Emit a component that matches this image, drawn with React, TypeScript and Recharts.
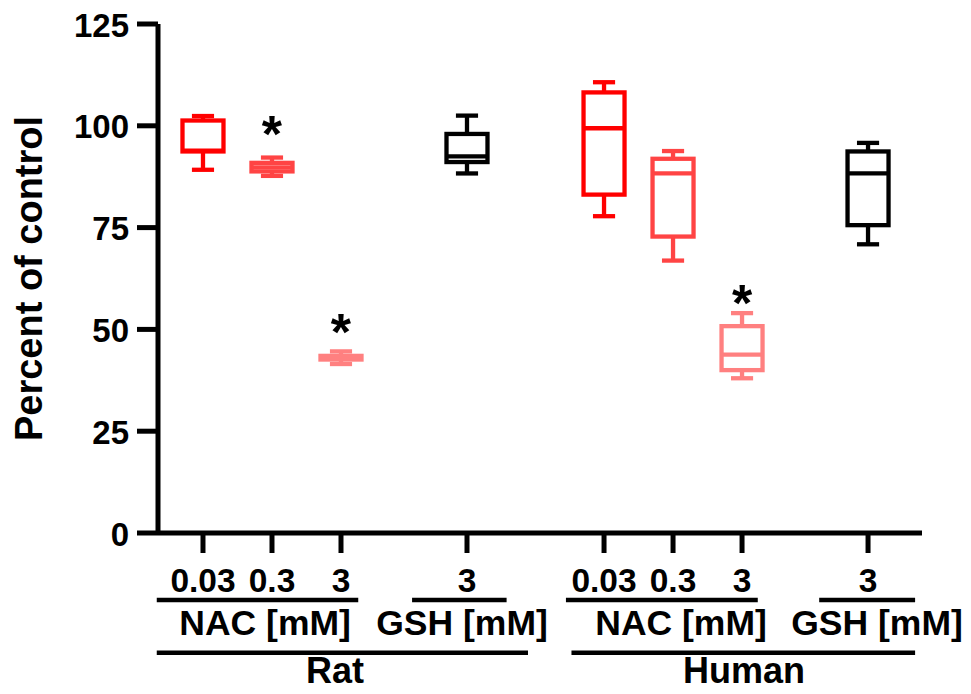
import React from 'react';
import { ComposedChart, Bar, XAxis, YAxis, ReferenceLine, ReferenceDot } from 'recharts';

// ---------- data ----------
const categories = ['0.03', '0.3', '3', '3', '0.03', '0.3', '3', '3'];
const xPositions = [1, 2, 3, 4.826, 6.812, 7.812, 8.812, 10.638];
const minValues = [89.2, 87.7, 41.5, 88.3, 77.8, 66.9, 38.0, 70.9];
const q1Values = [93.7, 88.8, 42.6, 91.1, 83.1, 72.8, 40.0, 75.6];
const medianValues = [93.9, 89.8, 43.0, 92.5, 99.4, 88.3, 43.8, 88.3];
const q3Values = [101.3, 90.9, 43.5, 98.0, 108.2, 91.9, 50.8, 93.7];
const maxValues = [102.4, 92.2, 44.6, 102.5, 110.7, 93.8, 54.0, 95.8];
const starValues: (number | null)[] = [null, 100.5, 51.8, null, null, null, 58.9, null];
const yTicks = [0, 25, 50, 75, 100, 125];

const groupLabels = ['NAC [mM]', 'GSH [mM]', 'NAC [mM]', 'GSH [mM]'];
const groupStart = [0.33, 4.03, 6.26, 9.93];
const groupEnd = [3.25, 5.4, 9.04, 11.32];
const groupLabelX = [1.9, 4.754, 7.928, 10.768];

const speciesLabels = ['Rat', 'Human'];
const speciesStart = [0.33, 6.34];
const speciesEnd = [5.71, 11.32];
const speciesLabelX = [2.913, 8.84];

// ---------- styles ----------
const boxColors = ['#ff0000', '#ff4444', '#ff8080', '#000000', '#ff0000', '#ff4444', '#ff8080', '#000000'];
const FONT = '"Liberation Sans", Arial, Helvetica, sans-serif';
const GROUP_Y = -16.45;
const GROUP_LABEL_Y = -22.2;
const SPECIES_Y = -29.4;
const SPECIES_LABEL_Y = -34.0;

const data = categories.map((c, i) => ({
  x: xPositions[i],
  label: c,
  min: minValues[i],
  q1: q1Values[i],
  median: medianValues[i],
  q3: q3Values[i],
  max: maxValues[i],
  star: starValues[i],
  color: boxColors[i],
}));

const BoxShape = (props: any) => {
  const { x, y, width, height, payload } = props;
  if (!payload) return null;
  const { min, q1, median, q3, max, star, color } = payload;
  const k = height / (max - min);
  const toY = (v: number) => y + (max - v) * k;
  const cx = x + width / 2;
  const capHalf = width * 0.27;
  const sw = 4.3;
  const yMax = toY(max);
  const yMin = toY(min);
  const yQ3 = toY(q3);
  const yQ1 = toY(q1);
  const yMed = toY(median);
  return (
    <g>
      <line x1={cx} x2={cx} y1={yMax} y2={yQ3} stroke={color} strokeWidth={sw} />
      <line x1={cx} x2={cx} y1={yQ1} y2={yMin} stroke={color} strokeWidth={sw} />
      <line x1={cx - capHalf} x2={cx + capHalf} y1={yMax} y2={yMax} stroke={color} strokeWidth={sw} />
      <line x1={cx - capHalf} x2={cx + capHalf} y1={yMin} y2={yMin} stroke={color} strokeWidth={sw} />
      <rect x={x} y={yQ3} width={width} height={Math.max(yQ1 - yQ3, 0.1)} fill="none" stroke={color} strokeWidth={sw} strokeLinejoin="miter" />
      <line x1={x} x2={x + width} y1={yMed} y2={yMed} stroke={color} strokeWidth={sw} />
      {star != null && (
        <text x={cx} y={toY(star) + 28} textAnchor="middle" fontSize={52} fontWeight={700} fontFamily={FONT} fill="#000">*</text>
      )}
    </g>
  );
};

const XTick = (props: any) => {
  const { x, y, payload } = props;
  const idx = xPositions.indexOf(payload.value);
  const text = idx >= 0 ? categories[idx] : '';
  return (
    <text x={x} y={y} dy={38.5} textAnchor="middle" fontSize={33.5} fontWeight={700} fontFamily={FONT} fill="#000">{text}</text>
  );
};

const YTick = (props: any) => {
  const { x, y, payload } = props;
  return (
    <text x={x} y={y} dy={12.5} textAnchor="end" fontSize={33} fontWeight={700} fontFamily={FONT} fill="#000">{payload.value}</text>
  );
};

const YTitle = (props: any) => {
  const vb = props.viewBox || { x: 0, y: 24, width: 158, height: 509 };
  const tx = vb.x + 42;
  const ty = vb.y + vb.height / 2;
  return (
    <text x={tx} y={ty} transform={`rotate(-90 ${tx} ${ty})`} textAnchor="middle" fontSize={38} fontWeight={700} fontFamily={FONT} fill="#000">Percent of control</text>
  );
};

const makeTextLabel = (text: string, size: number) => (p: any) => {
  const vb = p.viewBox || {};
  const cx = (vb.x ?? 0) + (vb.width ?? 0) / 2;
  const cy = (vb.y ?? 0) + (vb.height ?? 0) / 2;
  return (
    <text x={cx} y={cy} dy={11.5} textAnchor="middle" fontSize={size} fontWeight={700} fontFamily={FONT} fill="#000">{text}</text>
  );
};

export default function App() {
  return (
    <div style={{ position: 'absolute', left: 0, top: 0, width: 971, height: 694, background: '#fff' }}>
      <ComposedChart width={971} height={694} data={data} margin={{ top: 24, right: 49, bottom: 0, left: 0 }}>
        <XAxis
          dataKey="x"
          type="number"
          domain={[0.348, 11.42]}
          ticks={xPositions}
          allowDataOverflow
          height={161}
          tickSize={20}
          tickMargin={0}
          axisLine={{ stroke: '#000', strokeWidth: 5 }}
          tickLine={{ stroke: '#000', strokeWidth: 5 }}
          tick={<XTick />}
          interval={0}
        />
        <YAxis
          domain={[0, 125]}
          ticks={yTicks}
          width={158}
          tickSize={21}
          tickMargin={8}
          axisLine={{ stroke: '#000', strokeWidth: 5 }}
          tickLine={{ stroke: '#000', strokeWidth: 5 }}
          tick={<YTick />}
          interval={0}
          label={(p: any) => <YTitle {...p} />}
        />
        <Bar dataKey={(d: any) => [d.min, d.max]} barSize={41} shape={<BoxShape />} isAnimationActive={false} />
        {groupLabels.map((g, i) => (
          <ReferenceLine
            key={`g${i}`}
            segment={[{ x: groupStart[i], y: GROUP_Y }, { x: groupEnd[i], y: GROUP_Y }]}
            ifOverflow="visible"
            stroke="#000"
            strokeWidth={4.5}
          />
        ))}
        {groupLabels.map((g, i) => (
          <ReferenceDot key={`gl${i}`} x={groupLabelX[i]} y={GROUP_LABEL_Y} r={0} ifOverflow="visible" stroke="none" fill="none" label={makeTextLabel(g, 35.5)} />
        ))}
        {speciesLabels.map((s, i) => (
          <ReferenceLine
            key={`s${i}`}
            segment={[{ x: speciesStart[i], y: SPECIES_Y }, { x: speciesEnd[i], y: SPECIES_Y }]}
            ifOverflow="visible"
            stroke="#000"
            strokeWidth={4.5}
          />
        ))}
        {speciesLabels.map((s, i) => (
          <ReferenceDot key={`sl${i}`} x={speciesLabelX[i]} y={SPECIES_LABEL_Y} r={0} ifOverflow="visible" stroke="none" fill="none" label={makeTextLabel(s, 36)} />
        ))}
      </ComposedChart>
    </div>
  );
}
